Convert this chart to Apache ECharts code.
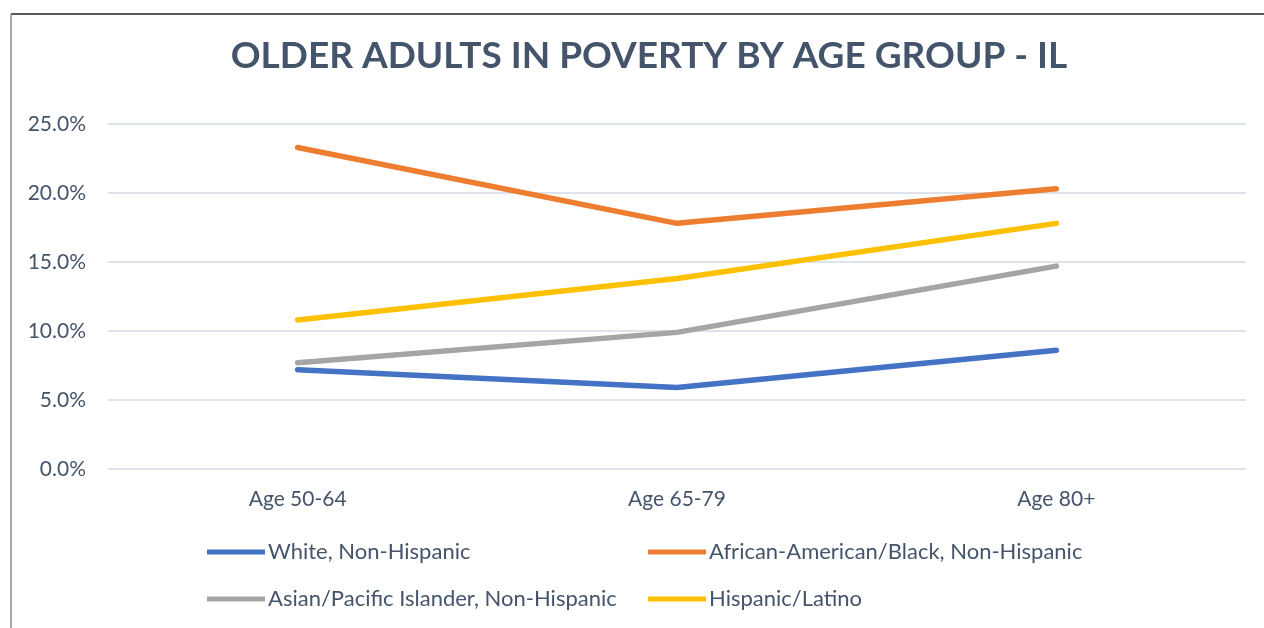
<!DOCTYPE html>
<html><head><meta charset="utf-8">
<script src="https://cdn.jsdelivr.net/npm/echarts@6/dist/echarts.min.js"></script>
<style>html,body{margin:0;padding:0;background:#fff}#c{width:1264px;height:628px}</style>
</head><body><div id="c"></div>
<script>
const categories = ['Age 50-64', 'Age 65-79', 'Age 80+'];
const seriesNames = ['White, Non-Hispanic', 'African-American/Black, Non-Hispanic', 'Asian/Pacific Islander, Non-Hispanic', 'Hispanic/Latino'];
const white = [7.2, 5.9, 8.6];
const black = [23.3, 17.8, 20.3];
const asian = [7.7, 9.9, 14.7];
const hispanic = [10.8, 13.8, 17.8];
const colors = ['#4472C4', '#ED7D31', '#A5A5A5', '#FFC000'];
const values = [white, black, asian, hispanic];

const chart = echarts.init(document.getElementById('c'));
const txt = '#44546A';
const font = 'Lato, "Open Sans", sans-serif';
const legendCommon = {
  orient: 'vertical', top: 541, itemGap: 25, padding: 0,
  itemWidth: 58, itemHeight: 5, icon: 'rect',
  textStyle: { fontFamily: font, fontSize: 22, color: txt, padding: [0, 0, 0, -2] }
};
chart.setOption({
  animation: false,
  title: {
    text: 'OLDER ADULTS IN POVERTY BY AGE GROUP - IL',
    left: 644, top: 33, textAlign: 'center',
    textStyle: { fontFamily: font, fontWeight: 'bold', fontSize: 37, color: txt }
  },
  graphic: [
    { type: 'line', shape: { x1: 11, y1: 14, x2: 1264, y2: 14 }, style: { stroke: '#222', lineWidth: 1.5 } },
    { type: 'line', shape: { x1: 11, y1: 14, x2: 11, y2: 628 }, style: { stroke: '#8a8a8a', lineWidth: 1.5 } }
  ],
  legend: [
    Object.assign({ data: [seriesNames[0], seriesNames[2]], left: 207 }, legendCommon),
    Object.assign({ data: [seriesNames[1], seriesNames[3]], left: 648 }, legendCommon)
  ],
  grid: { left: 108, right: 18, top: 124, bottom: 159, containLabel: false },
  xAxis: {
    type: 'category', data: categories, boundaryGap: true,
    axisLine: { show: false }, axisTick: { show: false },
    axisLabel: { fontFamily: font, fontSize: 21, color: txt, margin: 20 }
  },
  yAxis: {
    type: 'value', min: 0, max: 25, interval: 5,
    axisLine: { show: false }, axisTick: { show: false },
    splitLine: { lineStyle: { color: '#DDE3EB', width: 2 } },
    axisLabel: { fontFamily: font, fontSize: 21, color: txt, margin: 22, formatter: v => v.toFixed(1) + '%' }
  },
  series: seriesNames.map((n, i) => ({
    name: n, type: 'line', data: values[i], symbol: 'none',
    lineStyle: { width: 5.5, color: colors[i], cap: 'round', join: 'round' },
    itemStyle: { color: colors[i] }
  }))
});
</script></body></html>
